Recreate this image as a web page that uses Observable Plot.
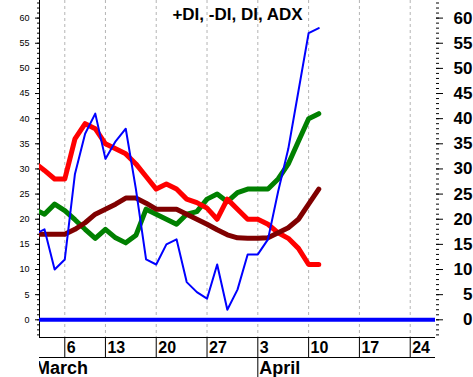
<!DOCTYPE html>
<html><head><meta charset="utf-8">
<script src="https://cdn.jsdelivr.net/npm/d3@7"></script>
<script src="https://cdn.jsdelivr.net/npm/@observablehq/plot@0.6"></script>
<style>
html,body{margin:0;padding:0;background:#fff}
#chart{position:absolute;left:0;top:0}
</style>
</head><body><div id="chart"></div>
<script>
// trading-session index (Mar 6 = 0)
const session = [-3,-2,-1,0,1,2,3,4,5,6,7,8,9,10,11,12,13,14,15,16,17,18,19,20,21,22,23,24,25];
const minusDI = [31.3,29.7,28,28,36,39,38,35,34,33,31,28.5,26,27,26,24,23.3,22.2,20,24,22,20,20,19,17.3,16.2,14.2,11,11];
const plusDI  = [22,21,23,21.7,19.9,18,16.2,18,16.3,15.3,16.8,22,21,20,19,21,21.5,24,25,23.5,25.3,26,26,26,28,31,35.5,40,41];
const adx     = [17,17,17,17,18,19.3,21,22,23,24.2,24.2,23.2,22,22,22,21,20,19,17.9,16.9,16.3,16.2,16.2,16.3,17.3,18.3,20,23,26];
const di      = [17,18,10,12,29,37,41,32,35.5,38,26,12,11,15,16,7.5,5.5,4.2,11,2,6,13,13,16,25.5,34,45.5,57,58];

const tickIndex  = [0,4,9,14,19,24,29,34];
const tickLabels = ["6","13","20","27","3","10","17","24"];
const monthIndex = [19];
const monthLabels = ["April"];
const firstMonth = "March";
const title = "+DI, -DI, DI, ADX";
const majorTicks = [0,5,10,15,20,25,30,35,40,45,50,55,60];
const minorTicks = d3.range(-3, 64);
const xDomain = [-2.49, 36.49];
const yDomain = [-3.52, 63.5];

const rows = vals => session.map((x, i) => ({x, y: vals[i]}));
const labelByIndex = new Map(tickIndex.map((d, i) => [d, tickLabels[i]]));
const monthByIndex = new Map(monthIndex.map((d, i) => [d, monthLabels[i]]));
const font = "'Liberation Sans', Arial, sans-serif";

const chart = Plot.plot({
  width: 473, height: 377,
  marginLeft: 39, marginRight: 38, marginTop: 0, marginBottom: 40,
  style: {fontFamily: font, fontSize: "9px", color: "black", background: "white", overflow: "visible"},
  x: {type: "linear", domain: xDomain, label: null},
  y: {domain: yDomain, label: null},
  marks: [
    Plot.ruleX(tickIndex, {stroke: "#b4b4b4", strokeDasharray: "3,3"}),
    Plot.ruleX([xDomain[0]], {stroke: "black"}),
    Plot.ruleY([yDomain[0]], {stroke: "black"}),
    Plot.ruleY([yDomain[0]], {stroke: "black", dy: 20}),
    Plot.ruleY([0], {stroke: "#0000ff", strokeWidth: 4}),
    Plot.line(rows(plusDI), {x: "x", y: "y", stroke: "#008000", strokeWidth: 5, strokeLinejoin: "round", clip: true}),
    Plot.line(rows(minusDI), {x: "x", y: "y", stroke: "#ff0000", strokeWidth: 5, strokeLinejoin: "round", clip: true}),
    Plot.line(rows(adx), {x: "x", y: "y", stroke: "#800000", strokeWidth: 5, strokeLinejoin: "round", clip: true}),
    Plot.line(rows(di), {x: "x", y: "y", stroke: "#0000ff", strokeWidth: 2, clip: true}),
    // left axis
    Plot.axisY(minorTicks, {anchor: "left", tickSize: 2, fill: "none"}),
    Plot.axisY(majorTicks, {anchor: "left", tickSize: 4, tickPadding: 6, fontSize: 9}),
    // right axis
    Plot.axisY(minorTicks, {anchor: "right", tickSize: 3, fill: "none"}),
    Plot.axisY(majorTicks, {anchor: "right", tickSize: 7, fill: "none"}),
    Plot.axisY(majorTicks, {anchor: "right", tickSize: 0, tickPadding: 37, textAnchor: "end", fontSize: 17, fontWeight: "bold"}),
    // bottom axis
    Plot.axisX(tickIndex, {anchor: "bottom", tickSize: 20, fill: "none"}),
    Plot.axisX(tickIndex, {anchor: "bottom", tickSize: 0, tickPadding: 4, textAnchor: "start", dx: 2, fontSize: 16, fontWeight: "bold", tickFormat: d => labelByIndex.get(d)}),
    Plot.axisX(monthIndex, {anchor: "bottom", tickSize: 20, dy: 20, fill: "none"}),
    Plot.axisX(monthIndex, {anchor: "bottom", tickSize: 0, tickPadding: 24, textAnchor: "start", dx: 1.5, fontSize: 18, fontWeight: "bold", tickFormat: d => monthByIndex.get(d)}),
    Plot.axisX([xDomain[0]], {anchor: "bottom", tickSize: 0, tickPadding: 24, textAnchor: "start", fontSize: 18, fontWeight: "bold", tickFormat: () => firstMonth}),
    // title
    Plot.text([title], {frameAnchor: "top", lineAnchor: "top", dy: 7, fontSize: 17, fontWeight: "bold", fill: "black"})
  ]
});
document.getElementById("chart").appendChild(chart);

// shift the first month label left and clip it at the plot's left edge
const svgns = "http://www.w3.org/2000/svg";
const svg = d3.select(chart);
svg.append("defs").append("clipPath").attr("id", "month-clip")
  .append("rect").attr("x", 39).attr("y", 0).attr("width", 473).attr("height", 377);
svg.selectAll("text").filter(function() { return this.textContent === firstMonth; }).each(function() {
  const g = this.parentNode;
  const outer = document.createElementNS(svgns, "g");
  const inner = document.createElementNS(svgns, "g");
  g.parentNode.insertBefore(outer, g);
  outer.appendChild(inner);
  inner.appendChild(g);
  outer.setAttribute("clip-path", "url(#month-clip)");
  inner.setAttribute("transform", "translate(-4.5,0)");
});
</script>
</body></html>
